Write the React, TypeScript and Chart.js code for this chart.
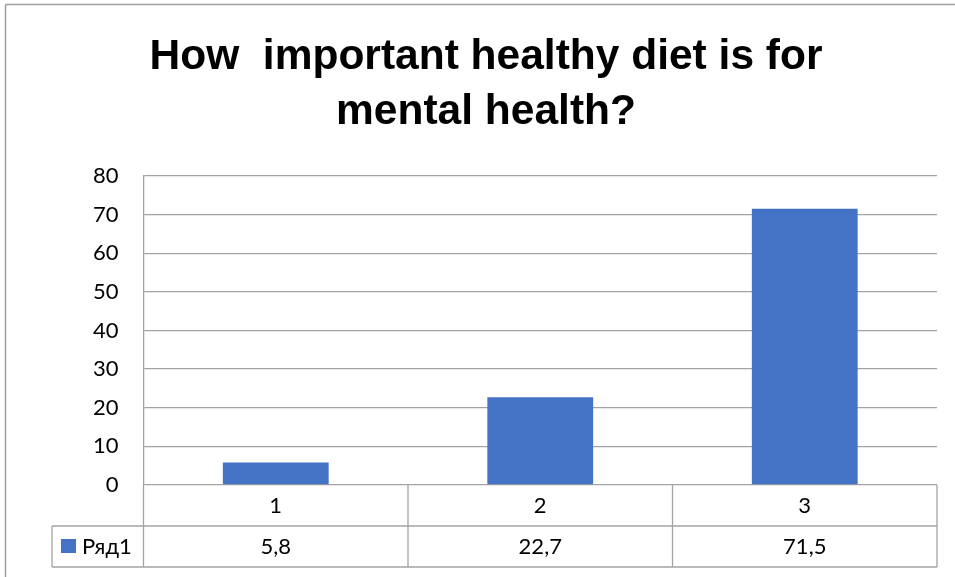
import React, { useEffect, useRef } from 'react';
import { Chart, registerables } from 'chart.js';

Chart.register(...registerables);

const titleLines = ['How  important healthy diet is for', 'mental health?'];
const categories = ['1', '2', '3'];
const seriesName = 'Ряд1';
const values = [5.8, 22.7, 71.5];
const valueLabels = ['5,8', '22,7', '71,5'];
const yMin = 0;
const yMax = 80;
const yStep = 10;

const BAR_COLOR = '#4472C4';
const LINE_COLOR = '#a3a3a3';
const FONT = 'Lato, "Open Sans", sans-serif';
const TITLE_FONT = '"Liberation Sans", Arial, sans-serif';

const tablePlugin = {
  id: 'dataTable',
  afterDraw(chart: any) {
    const { ctx, chartArea, scales } = chart;
    const x = scales.x;
    const n = categories.length;
    const top = chartArea.bottom;
    const rowH = 41;
    const legendLeft = 52;
    const right = x.getPixelForValue(n - 0.5);
    const line = (x1: number, y1: number, x2: number, y2: number) => {
      ctx.beginPath();
      ctx.moveTo(x1, y1);
      ctx.lineTo(x2, y2);
      ctx.stroke();
    };
    ctx.save();
    ctx.strokeStyle = LINE_COLOR;
    ctx.lineWidth = 1.3;
    line(legendLeft, top + rowH, right, top + rowH);
    line(legendLeft, top + 2 * rowH, right, top + 2 * rowH);
    line(legendLeft, top + rowH, legendLeft, top + 2 * rowH);
    for (let i = 0; i <= n; i++) {
      const bx = x.getPixelForValue(i - 0.5);
      line(bx, top, bx, top + 2 * rowH);
    }
    ctx.font = `22px ${FONT}`;
    ctx.fillStyle = '#000';
    ctx.textAlign = 'center';
    ctx.textBaseline = 'middle';
    for (let i = 0; i < n; i++) {
      const cx = x.getPixelForValue(i);
      ctx.fillText(categories[i], cx, top + rowH / 2);
      ctx.fillText(valueLabels[i], cx, top + 1.5 * rowH);
    }
    ctx.fillStyle = BAR_COLOR;
    ctx.fillRect(61, top + rowH + 13, 15, 14);
    ctx.fillStyle = '#000';
    ctx.textAlign = 'left';
    ctx.fillText(seriesName, 82, top + 1.5 * rowH);
    // outer frame
    ctx.strokeStyle = '#a0a0a0';
    ctx.lineWidth = 1.5;
    line(5.5, 4.5, 955, 4.5);
    line(5.5, 4.5, 5.5, 577);
    ctx.restore();
  },
};

export default function App() {
  const ref = useRef<HTMLCanvasElement | null>(null);
  useEffect(() => {
    if (!ref.current) return;
    const chart = new Chart(ref.current, {
      type: 'bar',
      data: {
        labels: categories,
        datasets: [
          {
            label: seriesName,
            data: values,
            backgroundColor: BAR_COLOR,
            barPercentage: 0.4,
            categoryPercentage: 1,
          },
        ],
      },
      options: {
        responsive: false,
        animation: false,
        layout: { padding: { left: 35, right: 18, top: 4, bottom: 10 } },
        plugins: {
          legend: { display: false },
          tooltip: { enabled: false },
          title: {
            display: true,
            text: titleLines,
            color: '#000',
            font: { family: TITLE_FONT, size: 42.5, weight: 'bold', lineHeight: 1.294 },
            padding: { top: 25.5, bottom: 36.5 },
          },
        },
        scales: {
          x: {
            grid: { display: false },
            border: { display: false },
            ticks: { display: false },
            afterFit: (s: any) => {
              s.height = 82;
            },
          },
          y: {
            min: yMin,
            max: yMax,
            ticks: {
              stepSize: yStep,
              color: '#000',
              padding: 25,
              font: { family: FONT, size: 22 },
            },
            grid: { color: LINE_COLOR, lineWidth: 1.3, drawTicks: false },
            border: { display: true, color: LINE_COLOR, width: 1.3 },
            afterFit: (s: any) => {
              s.width = 108.5;
            },
          },
        },
      },
      plugins: [tablePlugin],
    });
    return () => chart.destroy();
  }, []);
  return (
    <div style={{ position: 'absolute', left: 0, top: 0, width: 955, height: 577, background: '#fff' }}>
      <canvas ref={ref} width={955} height={577} />
    </div>
  );
}
